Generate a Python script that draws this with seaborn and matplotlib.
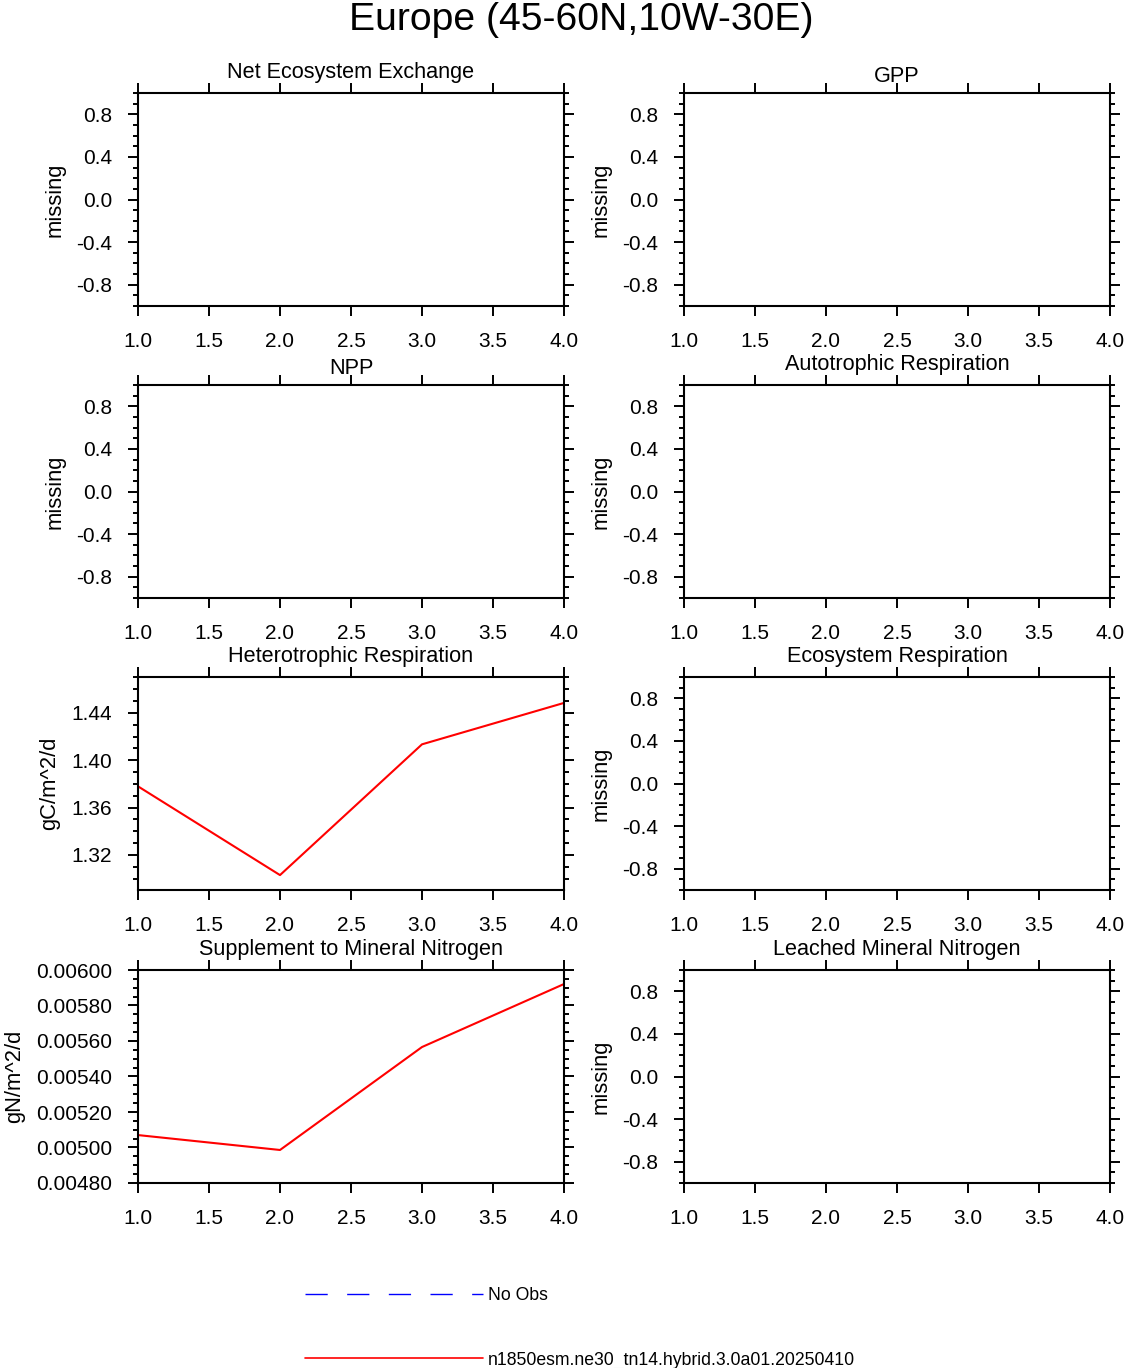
import numpy as np
import pandas as pd
import matplotlib
matplotlib.use('Agg')
import matplotlib.pyplot as plt
import seaborn as sns
from matplotlib.lines import Line2D
from matplotlib.ticker import MultipleLocator, FormatStrFormatter

# datos
years = [1, 2, 3, 4]
hr_vals = [1.378, 1.303, 1.4135, 1.4485]
sminn_vals = [0.00507, 0.004986, 0.005566, 0.005921]

panel_titles = ['Net Ecosystem Exchange', 'GPP', 'NPP', 'Autotrophic Respiration',
                'Heterotrophic Respiration', 'Ecosystem Respiration',
                'Supplement to Mineral Nitrogen', 'Leached Mineral Nitrogen']
panel_units = ['missing', 'missing', 'missing', 'missing',
               'gC/m^2/d', 'missing', 'gN/m^2/d', 'missing']
panel_data = {4: hr_vals, 6: sminn_vals}

case_name = 'n1850esm.ne30_tn14.hybrid.3.0a01.20250410'
obs_name = 'No Obs'

sns.set_style('ticks')
plt.rcParams['font.family'] = ['Liberation Sans', 'DejaVu Sans']
plt.rcParams['text.color'] = 'black'
plt.rcParams['axes.labelcolor'] = 'black'

W, H = 1124, 1368
fig = plt.figure(figsize=(W / 100, H / 100), dpi=100)

lefts = [138, 684]
tops = [93, 385, 677, 970]
pw, ph = 426, 213


def style_axis(ax):
    for s in ax.spines.values():
        s.set_linewidth(1.5)
        s.set_color('black')
    ax.tick_params(which='both', direction='out', top=True, right=True,
                   colors='black', width=1.4, labelsize=15)
    ax.tick_params(which='major', length=7)
    ax.tick_params(which='minor', length=3.8)
    ax.tick_params(axis='x', pad=11.5)
    ax.tick_params(axis='y', pad=11.5)
    ax.set_xlim(1, 4)
    ax.xaxis.set_major_locator(MultipleLocator(0.5))
    ax.xaxis.set_major_formatter(FormatStrFormatter('%.1f'))
    ax.set_xlabel('')


for i in range(8):
    r, c = divmod(i, 2)
    ax = fig.add_axes([lefts[c] / W, 1 - (tops[r] + ph) / H, pw / W, ph / H])
    if i in panel_data:
        df = pd.DataFrame({'year': years, 'val': panel_data[i]})
        sns.lineplot(data=df, x='year', y='val', ax=ax, color='red', linewidth=1.5)
    style_axis(ax)
    if i == 4:
        ax.set_ylim(1.2904, 1.4704)
        ax.yaxis.set_major_locator(MultipleLocator(0.04))
        ax.yaxis.set_minor_locator(MultipleLocator(0.01))
        ax.yaxis.set_major_formatter(FormatStrFormatter('%.2f'))
    elif i == 6:
        ax.set_ylim(0.0048, 0.0060)
        ax.yaxis.set_major_locator(MultipleLocator(0.0002))
        ax.yaxis.set_minor_locator(MultipleLocator(0.00005))
        ax.yaxis.set_major_formatter(FormatStrFormatter('%.5f'))
    else:
        ax.set_ylim(-1, 1)
        ax.yaxis.set_major_locator(MultipleLocator(0.4))
        ax.yaxis.set_minor_locator(MultipleLocator(0.1))
        ax.yaxis.set_major_formatter(FormatStrFormatter('%.1f'))
    ax.set_ylabel(panel_units[i], fontsize=15.8, labelpad=8)
    # NCL apoya el texto por abajo: sin descendentes queda mas bajo
    t = panel_titles[i]
    ty = 1.072 if any(ch in t for ch in 'gjpqy') else 1.052
    ax.text(0.5, ty, t, transform=ax.transAxes,
            ha='center', va='baseline', fontsize=15.6)

fig.suptitle('Europe (45-60N,10W-30E)', fontsize=28.2, x=581 / W, y=1 - 2 / H, va='top')

handles = [Line2D([], [], color='blue', lw=1, linestyle=(0, (16, 14))),
           Line2D([], [], color='red', lw=1.2)]
fig.legend(handles, [obs_name, case_name], loc='upper left',
           bbox_to_anchor=(305 / W, 1 - 1287 / H), frameon=False,
           fontsize=12.7, handlelength=10.1, handletextpad=0.25,
           labelspacing=2.7, borderpad=0, borderaxespad=0)

fig.savefig('out.png', dpi=100)
